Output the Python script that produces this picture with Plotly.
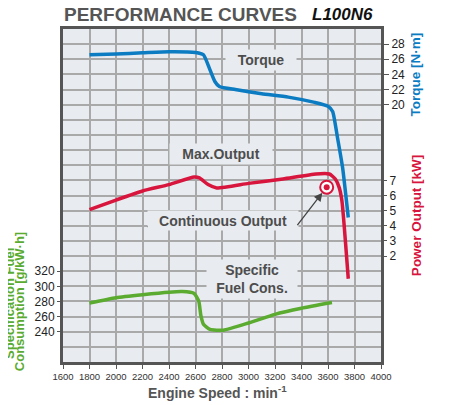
import plotly.graph_objects as go

# ---- data ----
rpm_torque = [1800, 2000, 2200, 2400, 2600, 2660, 2705, 2745, 2780, 2900, 3100, 3300, 3500, 3600, 3635, 3672, 3710, 3753]
torque = [26.6, 26.7, 26.85, 27.0, 26.9, 26.6, 24.8, 23.1, 22.4, 22.0, 21.45, 21.0, 20.3, 19.8, 19.1, 15.6, 11.7, 5.1]

rpm_power = [1800, 2000, 2200, 2400, 2590, 2630, 2695, 2760, 3000, 3260, 3510, 3610, 3655, 3684, 3705, 3753]
power = [5.07, 5.7, 6.3, 6.72, 7.22, 7.16, 6.72, 6.5, 6.8, 7.09, 7.42, 7.42, 7.09, 6.54, 5.66, 0.5]

rpm_fuel = [1800, 2000, 2200, 2400, 2500, 2590, 2625, 2640, 2660, 2710, 2810, 3000, 3200, 3400, 3630]
fuel = [278, 285, 289, 292.3, 293, 290.5, 280, 262, 250, 243, 242, 251.5, 263, 271, 278.5]

cont_rpm = [3590]
cont_power = [6.55]

x_ticks = [1600, 1800, 2000, 2200, 2400, 2600, 2800, 3000, 3200, 3400, 3600, 3800, 4000]
torque_ticks = [20, 22, 24, 26, 28]
power_ticks = [2, 3, 4, 5, 6, 7]
fuel_ticks = [240, 260, 280, 300, 320]

BLUE = "#0b7bc2"
RED = "#d7153d"
GREEN = "#5aab2f"
GRID = "#a9a9a9"
BG = "#e8ebf0"
DARK = "#555555"
FONT = "Liberation Sans, Arial, sans-serif"

fig = go.Figure()
fig.add_trace(go.Scatter(x=rpm_torque, y=torque, mode="lines", yaxis="y",
                         line=dict(color=BLUE, width=3.5, shape="spline", smoothing=0.5)))
fig.add_trace(go.Scatter(x=rpm_power, y=power, mode="lines", yaxis="y2",
                         line=dict(color=RED, width=3.5, shape="spline", smoothing=0.5)))
fig.add_trace(go.Scatter(x=rpm_fuel, y=fuel, mode="lines", yaxis="y3",
                         line=dict(color=GREEN, width=3.5, shape="spline", smoothing=0.5)))
fig.add_trace(go.Scatter(x=cont_rpm, y=cont_power, mode="markers", yaxis="y2",
                         marker=dict(size=13, color="white", line=dict(color=RED, width=2))))
fig.add_trace(go.Scatter(x=cont_rpm, y=cont_power, mode="markers", yaxis="y2",
                         marker=dict(size=6, color=RED)))

tickfont = dict(family=FONT, size=12, color="#222")
fig.update_layout(
    width=451, height=405,
    margin=dict(l=55, r=78, t=21, b=51),
    paper_bgcolor="white", plot_bgcolor=BG,
    showlegend=False,
    xaxis=dict(range=[1600, 4000], tickvals=x_ticks, ticks="outside", ticklen=4,
               tickcolor=DARK, tickfont=dict(family=FONT, size=9.5, color="#333"),
               showgrid=True, gridcolor=GRID, gridwidth=1.5, zeroline=False,
               showline=True, mirror=True, linewidth=3, linecolor=DARK),
    yaxis=dict(range=[-14, 30], side="right", tickvals=torque_ticks, ticks="outside",
               ticklen=5, tickcolor=DARK, tickfont=tickfont,
               showgrid=True, gridcolor=GRID, gridwidth=1.5, zeroline=False,
               minor=dict(tickmode="linear", tick0=0, dtick=2, showgrid=True,
                          gridcolor=GRID, gridwidth=1.5, ticks=""),
               showline=True, mirror=True, linewidth=3, linecolor=DARK),
    yaxis2=dict(range=[-5, 17], overlaying="y", side="right", tickvals=power_ticks,
                ticks="outside", ticklen=5, tickcolor=DARK, tickfont=tickfont,
                showgrid=False, zeroline=False),
    yaxis3=dict(range=[200, 640], overlaying="y", side="left", tickvals=fuel_ticks,
                ticks="outside", ticklen=5, tickcolor=DARK, tickfont=tickfont,
                showgrid=False, zeroline=False),
)

label_font = dict(family=FONT, size=14, color="#4d4d4d")
fig.add_annotation(x=3091, y=25.9, xref="x", yref="y", text="<b>Torque</b>", showarrow=False,
                   font=label_font, bgcolor=BG, width=68, height=18)
fig.add_annotation(x=2792, y=13.55, xref="x", yref="y", text="<b>Max.Output</b>", showarrow=False,
                   font=label_font, bgcolor=BG, width=100, height=18)
fig.add_annotation(x=2805, y=4.7, xref="x", yref="y", text="<b>Continuous Output</b>", showarrow=False,
                   font=label_font, bgcolor=BG, width=148, height=17)
fig.add_annotation(x=3027, y=-3.0, xref="x", yref="y", text="<b>Specific<br>Fuel Cons.</b>",
                   showarrow=False, font=label_font, bgcolor=BG, width=88, height=36)

# leader line to continuous output point
fig.add_shape(type="line", xref="x", yref="y2", x0=2235, x1=3360, y0=3.95, y1=3.95,
              line=dict(color="#444", width=1.3))
fig.add_annotation(x=cont_rpm[0], y=cont_power[0], xref="x", yref="y2",
                   ax=3360, ay=3.95, axref="x", ayref="y2", text="", showarrow=True,
                   arrowhead=2, arrowsize=1.3, arrowwidth=1.3, arrowcolor="#444", standoff=7)

# titles
fig.add_annotation(x=-0.003, y=1.045, xref="paper", yref="paper", xanchor="left", yanchor="middle",
                   text="<b>PERFORMANCE CURVES</b>", showarrow=False,
                   font=dict(family=FONT, size=19, color="#555"))
fig.add_annotation(x=0.777, y=1.045, xref="paper", yref="paper", xanchor="left", yanchor="middle",
                   text="<b><i>L100N6</i></b>", showarrow=False,
                   font=dict(family=FONT, size=17, color="#111"))
fig.add_annotation(x=0.487, y=-0.09, xref="paper", yref="paper", xanchor="center", yanchor="middle",
                   text="<b>Engine Speed : min<sup>-1</sup></b>", showarrow=False,
                   font=dict(family=FONT, size=14, color="#555"))
fig.add_annotation(x=1.110, y=0.863, xref="paper", yref="paper", textangle=-90,
                   xanchor="center", yanchor="middle",
                   text="<b>Torque [N·m]</b>", showarrow=False,
                   font=dict(family=FONT, size=13.5, color=BLUE))
fig.add_annotation(x=1.110, y=0.441, xref="paper", yref="paper", textangle=-90,
                   xanchor="center", yanchor="middle",
                   text="<b>Power Output [kW]</b>", showarrow=False,
                   font=dict(family=FONT, size=13.5, color=RED))
fig.add_annotation(x=-0.166, y=0.175, xref="paper", yref="paper", textangle=-90,
                   xanchor="center", yanchor="middle",
                   text="<b>Specification Fuel</b>", showarrow=False,
                   font=dict(family=FONT, size=13, color=GREEN))
fig.add_annotation(x=-0.138, y=0.18, xref="paper", yref="paper", textangle=-90,
                   xanchor="center", yanchor="middle",
                   text="<b>Consumption [g/kW·h]</b>", showarrow=False,
                   font=dict(family=FONT, size=13, color=GREEN))

fig.write_html("out.html")
